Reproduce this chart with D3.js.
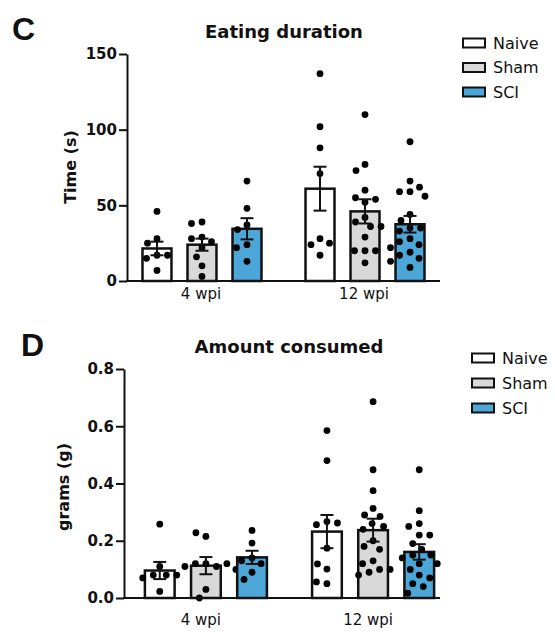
<!DOCTYPE html>
<html>
<head>
<meta charset="utf-8">
<script src="https://cdn.jsdelivr.net/npm/d3@7"></script>
<style>
  body { margin: 0; background: #fff; }
  text { font-family: "DejaVu Sans", "Liberation Sans", sans-serif; fill: #111; }
</style>
</head>
<body>
<script>
// data
var groups = ['4 wpi', '12 wpi'];
var series = ['Naive', 'Sham', 'SCI'];
var colors = ['#ffffff', '#d9d9d9', '#4da6d8'];

// eating duration (s), [group][series]
var timeTicks = [0, 50, 100, 150];
var timeMean = [[21.5, 24, 34.5], [61, 46, 37.5]];
var timeSem = [[4.5, 4, 7], [14.5, 8, 5.5]];
var time4wpi = [
    [46, 28, 25, 17, 15, 17, 7],
    [39, 38, 29, 28, 26, 22, 16, 10, 3],
    [66, 48, 37, 34, 24, 22, 13]
];
var time12wpi = [
    [137, 102, 88, 71, 28, 24, 25, 17],
    [110, 77, 73, 60, 52, 55, 54, 42, 39, 36, 36, 29, 20, 20, 20, 12],
    [92, 66, 59, 59, 62, 56, 44, 40, 35, 35, 33, 28, 26, 24, 22, 19, 17, 15, 13, 9]
];

// amount consumed (g)
var gramTicks = [0, 0.2, 0.4, 0.6, 0.8];
var gramMean = [[0.096, 0.113, 0.142], [0.232, 0.237, 0.161]];
var gramSem = [[0.03, 0.03, 0.023], [0.058, 0.04, 0.027]];
var gram4wpi = [
    [0.258, 0.11, 0.08, 0.08, 0.07, 0.08, 0.023],
    [0.215, 0.228, 0.12, 0.12, 0.11, 0.11, 0.12, 0.10, 0.03, 0.0],
    [0.236, 0.192, 0.14, 0.13, 0.12, 0.09, 0.065]
];
var gram12wpi = [
    [0.585, 0.48, 0.267, 0.256, 0.262, 0.174, 0.101, 0.119, 0.05, 0.056],
    [0.686, 0.448, 0.375, 0.313, 0.29, 0.285, 0.26, 0.25, 0.24, 0.2, 0.18, 0.17, 0.13, 0.12, 0.1, 0.1, 0.09, 0.08],
    [0.448, 0.305, 0.26, 0.25, 0.22, 0.22, 0.19, 0.17, 0.15, 0.15, 0.14, 0.12, 0.12, 0.1, 0.08, 0.07, 0.05, 0.04, 0.017]
];

var svg = d3.select('body').append('svg')
    .attr('width', 555)
    .attr('height', 632);

// simple beeswarm: push each dot sideways until it doesn't touch the others
var swarm = function(pys, min_dist) {
    var placed = [];
    pys.forEach(function(py) {
        var off = 0;
        for (var k = 0; k < 200; k++) {
            off = (k % 2 === 0 ? 1 : -1) * Math.ceil(k / 2) * 0.5;
            var ok = placed.every(function(p) {
                var dx = p.x - off, dy = p.y - py;
                return dx * dx + dy * dy >= min_dist * min_dist;
            });
            if (ok) break;
        }
        placed.push({x: off, y: py});
    });
    return placed;
};

var draw_panel = function(cfg) {
    var g = svg.append('g');

    var scale_y = d3.scaleLinear()
        .domain([0, cfg.ticks[cfg.ticks.length - 1]])
        .range([cfg.y_bottom, cfg.y_top]);

    var scale_g = d3.scaleBand()
        .domain(groups)
        .range(cfg.band_range)
        .paddingInner(0.2)
        .paddingOuter(0.06);

    var scale_s = d3.scaleBand()
        .domain(series)
        .range([0, scale_g.bandwidth()])
        .paddingInner(0.356)
        .paddingOuter(0.127);

    // letter + title
    g.append('text')
        .attr('x', cfg.letter_x).attr('y', cfg.letter_y)
        .style('font-family', '"Liberation Sans", Arial, sans-serif')
        .style('font-size', '32px').style('font-weight', 'bold')
        .text(cfg.letter);
    g.append('text')
        .attr('x', cfg.title_x).attr('y', cfg.title_y)
        .attr('text-anchor', 'middle')
        .style('font-size', '18px').style('font-weight', 'bold')
        .text(cfg.title);

    // y label
    g.append('text')
        .attr('transform', 'translate(' + cfg.ylab_x + ',' + cfg.ylab_y + ') rotate(-90)')
        .attr('text-anchor', 'middle')
        .attr('dominant-baseline', 'central')
        .style('font-size', '16px').style('font-weight', 'bold')
        .text(cfg.y_label);

    groups.forEach(function(grp, gi) {
        series.forEach(function(s, si) {
            var x = scale_g(grp) + scale_s(s);
            var w = scale_s.bandwidth();
            var cx = x + w / 2;
            var mean = cfg.means[gi][si];
            var sem = cfg.sems[gi][si];

            g.append('rect')
                .attr('x', x)
                .attr('y', scale_y(mean))
                .attr('width', w)
                .attr('height', scale_y(0) - scale_y(mean))
                .attr('fill', colors[si])
                .attr('stroke', '#111')
                .attr('stroke-width', 2.5);

            var vals = cfg.dots[gi][si];
            var pts = swarm(vals.map(function(v) { return scale_y(v); }), 10.5);
            g.selectAll(null)
                .data(pts)
                .enter()
              .append('circle')
                .attr('cx', function(p) { return cx + p.x; })
                .attr('cy', function(p) { return p.y; })
                .attr('r', 3.4)
                .attr('fill', '#000');

            // error bar
            var eb = g.append('g')
                .attr('stroke', '#111')
                .attr('stroke-width', 2);
            eb.append('line')
                .attr('x1', cx).attr('x2', cx)
                .attr('y1', scale_y(mean - sem)).attr('y2', scale_y(mean + sem));
            [mean - sem, mean + sem].forEach(function(v) {
                eb.append('line')
                    .attr('x1', cx - 6.5).attr('x2', cx + 6.5)
                    .attr('y1', scale_y(v)).attr('y2', scale_y(v));
            });
        });
    });

    // axes
    var axis_y = d3.axisLeft(scale_y)
        .tickValues(cfg.ticks)
        .tickFormat(cfg.fmt)
        .tickSize(8)
        .tickSizeOuter(0)
        .tickPadding(2);
    var ay = g.append('g')
        .attr('transform', 'translate(' + cfg.x0 + ',0)')
        .call(axis_y);
    ay.selectAll('path, line').attr('stroke', '#111').attr('stroke-width', 2);
    ay.selectAll('text')
        .style('font-size', '15px').style('font-weight', 'bold')
        .style('font-family', '"DejaVu Sans", sans-serif')
        .attr('fill', '#111');

    g.append('line')
        .attr('x1', cfg.x0 - 1).attr('x2', cfg.x1)
        .attr('y1', scale_y(0)).attr('y2', scale_y(0))
        .attr('stroke', '#111').attr('stroke-width', 2);

    var axis_x = d3.axisBottom(scale_g)
        .tickSize(0)
        .tickPadding(cfg.xlab_pad);
    var ax = g.append('g')
        .attr('transform', 'translate(' + cfg.xlab_shift + ',' + scale_y(0) + ')')
        .call(axis_x);
    ax.select('.domain').remove();
    ax.selectAll('text')
        .style('font-size', '15px')
        .style('font-family', '"DejaVu Sans", sans-serif')
        .attr('fill', '#111');

    // legend
    var leg = g.append('g')
        .attr('transform', 'translate(' + cfg.leg_x + ',' + cfg.leg_y + ')');
    series.forEach(function(s, si) {
        var row = leg.append('g').attr('transform', 'translate(0,' + (si * cfg.leg_step) + ')');
        row.append('rect')
            .attr('x', 0).attr('y', -4.5)
            .attr('width', 22).attr('height', 9)
            .attr('fill', colors[si])
            .attr('stroke', '#111').attr('stroke-width', 2);
        row.append('text')
            .attr('x', 30).attr('y', 0)
            .attr('dominant-baseline', 'central')
            .style('font-size', '16px')
            .text(s);
    });
};

draw_panel({
    letter: 'C', letter_x: 12, letter_y: 40,
    title: 'Eating duration', title_x: 284, title_y: 38,
    y_label: 'Time (s)', ylab_x: 70, ylab_y: 167,
    ticks: timeTicks, fmt: d3.format('d'),
    means: timeMean, sems: timeSem, dots: [time4wpi, time12wpi],
    y_top: 54, y_bottom: 281,
    x0: 127, x1: 440, band_range: [127, 440],
    xlab_pad: 7, xlab_shift: -1,
    leg_x: 463, leg_y: 43, leg_step: 24.5
});

draw_panel({
    letter: 'D', letter_x: 21, letter_y: 356,
    title: 'Amount consumed', title_x: 289, title_y: 353,
    y_label: 'grams (g)', ylab_x: 63, ylab_y: 487,
    ticks: gramTicks, fmt: d3.format('.1f'),
    means: gramMean, sems: gramSem, dots: [gram4wpi, gram12wpi],
    y_top: 369, y_bottom: 598,
    x0: 124, x1: 440, band_range: [129, 450],
    xlab_pad: 16, xlab_shift: -5,
    leg_x: 472, leg_y: 358, leg_step: 25
});
</script>
</body>
</html>
